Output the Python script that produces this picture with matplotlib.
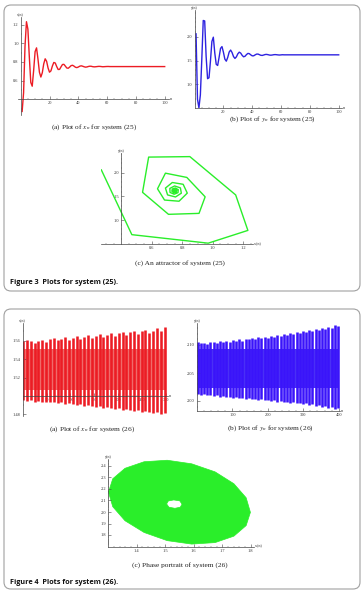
import numpy as np
import matplotlib
matplotlib.use('Agg')
import matplotlib.pyplot as plt
from matplotlib.patches import FancyBboxPatch, PathPatch
from matplotlib.path import Path
from matplotlib.ticker import FixedLocator, FixedFormatter

plt.rcParams['font.family'] = ['Liberation Serif', 'DejaVu Serif']
plt.rcParams['mathtext.fontset'] = 'stix'

# ---------------- data: system (25) ----------------
x25 = [0.27, 0.47, 0.97, 1.23, 1.15, 0.85, 0.58, 0.54, 0.71, 0.91,
       0.95, 0.83, 0.69, 0.638, 0.684, 0.779, 0.833, 0.806, 0.735, 0.690,
       0.704, 0.756, 0.794, 0.788, 0.750, 0.719, 0.720, 0.747, 0.772, 0.774,
       0.755, 0.735, 0.732, 0.745, 0.760, 0.764, 0.755, 0.743, 0.739, 0.745,
       0.754, 0.758, 0.754, 0.748, 0.744, 0.746, 0.751, 0.754, 0.753, 0.749,
       0.747, 0.748, 0.750, 0.752, 0.752, 0.750, 0.748, 0.749, 0.750, 0.751,
       0.751, 0.750, 0.750, 0.750, 0.750, 0.750, 0.750, 0.750, 0.750, 0.750,
       0.750, 0.750, 0.750, 0.750, 0.750, 0.750, 0.750, 0.750, 0.750, 0.750,
       0.750, 0.750, 0.750, 0.750, 0.750, 0.750, 0.750, 0.750, 0.750, 0.750,
       0.750, 0.750, 0.750, 0.750, 0.750, 0.750, 0.750, 0.750, 0.750, 0.750]
y25 = [2.06, 0.69, 0.51, 0.78, 1.53, 2.34, 2.33, 1.585, 1.12, 1.14,
       1.49, 1.90, 1.99, 1.66, 1.422, 1.397, 1.568, 1.755, 1.793, 1.675,
       1.530, 1.487, 1.567, 1.679, 1.720, 1.668, 1.584, 1.545, 1.578, 1.641,
       1.676, 1.656, 1.609, 1.579, 1.590, 1.625, 1.650, 1.644, 1.619, 1.599,
       1.600, 1.619, 1.635, 1.636, 1.623, 1.610, 1.608, 1.617, 1.627, 1.629,
       1.623, 1.615, 1.613, 1.617, 1.623, 1.625, 1.622, 1.618, 1.616, 1.619,
       1.622, 1.620, 1.620, 1.620, 1.620, 1.620, 1.620, 1.620, 1.620, 1.620,
       1.620, 1.620, 1.620, 1.620, 1.620, 1.620, 1.620, 1.620, 1.620, 1.620,
       1.620, 1.620, 1.620, 1.620, 1.620, 1.620, 1.620, 1.620, 1.620, 1.620,
       1.620, 1.620, 1.620, 1.620, 1.620, 1.620, 1.620, 1.620, 1.620, 1.620]
n25 = np.arange(1, len(x25) + 1)

# ---------------- data: system (26) ----------------
n26a = [1, 9, 17, 25, 33, 41, 49, 57, 65, 73, 81, 89, 97, 105, 113, 121, 129, 137, 145,
        153, 161, 169, 177, 185, 193, 201, 209, 217, 225, 233, 241, 249, 257, 265, 273,
        281, 289, 297]
top26a = [1.560, 1.561, 1.560, 1.558, 1.560, 1.561, 1.559, 1.562, 1.563, 1.561, 1.562,
          1.564, 1.561, 1.563, 1.565, 1.562, 1.564, 1.566, 1.563, 1.565, 1.567, 1.564,
          1.566, 1.568, 1.565, 1.568, 1.569, 1.566, 1.569, 1.571, 1.567, 1.570, 1.572,
          1.568, 1.571, 1.574, 1.570, 1.575]
bot26a = [1.496, 1.495, 1.496, 1.494, 1.495, 1.494, 1.493, 1.494, 1.493, 1.492, 1.493,
          1.491, 1.492, 1.491, 1.490, 1.491, 1.489, 1.490, 1.489, 1.488, 1.489, 1.487,
          1.488, 1.487, 1.486, 1.487, 1.485, 1.486, 1.485, 1.484, 1.485, 1.483, 1.484,
          1.483, 1.482, 1.483, 1.481, 1.482]
band26a = [1.507, 1.551]

n26b = [2, 11, 20, 29, 38, 47, 56, 65, 74, 83, 92, 101, 110, 119, 128, 137, 146, 155,
        164, 173, 182, 191, 200, 209, 218, 227, 236, 245, 254, 263, 272, 281, 290, 299,
        308, 317, 326, 335, 344, 353, 362, 371, 380, 389, 398]
top26b = [2.105, 2.103, 2.104, 2.102, 2.106, 2.105, 2.104, 2.107, 2.106, 2.108, 2.106,
          2.109, 2.108, 2.110, 2.108, 2.111, 2.110, 2.112, 2.110, 2.114, 2.112, 2.115,
          2.113, 2.116, 2.114, 2.118, 2.116, 2.119, 2.117, 2.121, 2.119, 2.123, 2.121,
          2.125, 2.123, 2.127, 2.125, 2.129, 2.127, 2.131, 2.129, 2.133, 2.131, 2.135,
          2.134]
bot26b = [2.012, 2.011, 2.012, 2.010, 2.011, 2.009, 2.010, 2.008, 2.009, 2.007, 2.008,
          2.006, 2.007, 2.005, 2.006, 2.004, 2.005, 2.003, 2.004, 2.002, 2.003, 2.001,
          2.002, 2.000, 2.001, 1.999, 2.000, 1.998, 1.999, 1.997, 1.998, 1.996, 1.997,
          1.995, 1.996, 1.993, 1.994, 1.991, 1.993, 1.990, 1.991, 1.988, 1.990, 1.986,
          1.988]
band26b = [2.024, 2.092]

outer_x = [1.799, 1.784, 1.741, 1.675, 1.593, 1.507, 1.426, 1.359, 1.316,
           1.301, 1.316, 1.359, 1.426, 1.507, 1.593, 1.675, 1.741, 1.784]
outer_y = [1.997, 1.882, 1.790, 1.734, 1.721, 1.751, 1.822, 1.924, 2.046,
           2.173, 2.289, 2.380, 2.437, 2.450, 2.419, 2.349, 2.246, 2.124]
hole_x = [1.505, 1.511, 1.530, 1.551, 1.559, 1.553, 1.534, 1.513]
hole_y = [2.070, 2.096, 2.105, 2.097, 2.068, 2.042, 2.032, 2.042]

RED = '#ec1c24'
RED_BAND = '#f06a6a'
BLUE3 = '#2d22e0'
BLUE = '#3a14fa'
BLUE_BAND = '#4a30f6'
GREEN = '#2aee2a'

W, H = 364, 591
fig = plt.figure(figsize=(W / 100, H / 100), dpi=100)

bg = fig.add_axes([0, 0, 1, 1])
bg.set_xlim(0, W)
bg.set_ylim(H, 0)
bg.axis('off')
bg.set_zorder(-10)
for (y0, y1) in [(5, 291), (309, 589)]:
    bg.add_patch(FancyBboxPatch((4, y0), 356, y1 - y0,
                                boxstyle='round,pad=0,rounding_size=7',
                                fc='white', ec='#a0a0a0', lw=0.8))


def add_ax(pxa, va, pxb, vb, pya, wa, pyb, wb, xlim, ylim):
    sx = (pxb - pxa) / (vb - va)
    sy = (pyb - pya) / (wb - wa)
    l = pxa + (xlim[0] - va) * sx
    r = pxa + (xlim[1] - va) * sx
    t = pya + (ylim[1] - wa) * sy
    b = pya + (ylim[0] - wa) * sy
    ax = fig.add_axes([l / W, 1 - b / H, (r - l) / W, (b - t) / H])
    ax.set_xlim(*xlim)
    ax.set_ylim(*ylim)
    ax.patch.set_alpha(0)
    return ax


def style(ax, x0, y0, xt, xl, yt, yl, xm, ym, ylab, xlab):
    for s in ['top', 'right']:
        ax.spines[s].set_visible(False)
    ax.spines['left'].set_position(('data', x0))
    ax.spines['bottom'].set_position(('data', y0))
    for s in ['left', 'bottom']:
        ax.spines[s].set_linewidth(0.5)
        ax.spines[s].set_color('#444444')
        ax.spines[s].set_zorder(5)
    ax.xaxis.set_major_locator(FixedLocator(xt))
    ax.xaxis.set_major_formatter(FixedFormatter(xl))
    ax.yaxis.set_major_locator(FixedLocator(yt))
    ax.yaxis.set_major_formatter(FixedFormatter(yl))
    ax.xaxis.set_minor_locator(FixedLocator(xm))
    ax.yaxis.set_minor_locator(FixedLocator(ym))
    ax.tick_params(which='major', direction='in', length=2, width=0.4,
                   labelsize=3.2, pad=1.5, colors='#444444', labelcolor='#333333')
    ax.tick_params(which='minor', direction='in', length=1, width=0.3, colors='#444444')
    ax.text(x0, ax.get_ylim()[1], ylab, fontsize=3, ha='center', va='bottom', color='#333333')
    ax.text(ax.get_xlim()[1], y0, ' ' + xlab, fontsize=3, ha='left', va='center', color='#333333')


# ---- Figure 3 (a)
ax = add_ax(20.7, 0, 164.7, 100, 99.3, 0.4, 24.5, 1.2, (-2, 103), (0.232, 1.28))
ax.plot(n25, x25, color=RED, lw=1.0, solid_joinstyle='round')
style(ax, 0, 0.4, [20, 40, 60, 80, 100], ['20', '40', '60', '80', '100'],
      [0.6, 0.8, 1.0, 1.2], ['0.6', '0.8', '1.0', '1.2'],
      [5, 10, 15, 25, 30, 35, 45, 50, 55, 65, 70, 75, 85, 90, 95],
      [0.3, 0.5, 0.7, 0.9, 1.1], 'x(n)', 'n')

# ---- Figure 3 (b)
ax = add_ax(194.6, 0, 338.7, 100, 108.3, 0.5, 36.7, 2.0, (0, 102), (0.5, 2.56))
ax.plot(n25, y25, color=BLUE3, lw=1.0, solid_joinstyle='round')
style(ax, 0, 0.5, [20, 40, 60, 80, 100], ['20', '40', '60', '80', '100'],
      [1.0, 1.5, 2.0], ['1.0', '1.5', '2.0'],
      [5, 10, 15, 25, 30, 35, 45, 50, 55, 65, 70, 75, 85, 90, 95],
      [0.6, 0.7, 0.8, 0.9, 1.1, 1.2, 1.3, 1.4, 1.6, 1.7, 1.8, 1.9, 2.1, 2.2, 2.3, 2.4, 2.5],
      'y(n)', 'n')

# ---- Figure 3 (c)
ax = add_ax(151.7, 0.6, 243.3, 1.2, 172.7, 2.0, 220.0, 1.0, (0.266, 1.265), (0.5, 2.42))
ax.plot(x25, y25, color=GREEN, lw=1.0, solid_joinstyle='round')
style(ax, 0.4, 0.5, [0.6, 0.8, 1.0, 1.2], ['0.6', '0.8', '1.0', '1.2'],
      [1.0, 1.5, 2.0], ['1.0', '1.5', '2.0'],
      [0.3, 0.35, 0.45, 0.5, 0.55, 0.65, 0.7, 0.75, 0.85, 0.9, 0.95, 1.05, 1.1, 1.15, 1.25],
      [0.6, 0.7, 0.8, 0.9, 1.1, 1.2, 1.3, 1.4, 1.6, 1.7, 1.8, 1.9, 2.1, 2.2, 2.3, 2.4],
      'y(n)', 'x(n)')

# ---- Figure 4 (a)
ax = add_ax(22.7, 0, 166.0, 300, 396.0, 1.50, 340.7, 1.56, (0, 304), (1.478, 1.579))
ax.fill_between([n26a[0], n26a[-1]], band26a[0], band26a[1], color=RED_BAND, lw=0)
ax.vlines(n26a, bot26a, top26a, color=RED, lw=1.85)
style(ax, 0, 1.50, [50, 100, 150, 200, 250, 300], ['50', '100', '150', '200', '250', '300'],
      [1.48, 1.52, 1.54, 1.56], ['1.48', '1.52', '1.54', '1.56'],
      [10, 20, 30, 40, 60, 70, 80, 90, 110, 120, 130, 140, 160, 170, 180, 190,
       210, 220, 230, 240, 260, 270, 280, 290],
      [1.49, 1.51, 1.53, 1.55, 1.57], 'x(n)', 'n')

# ---- Figure 4 (b)
ax = add_ax(197.0, 0, 338.7, 400, 401.0, 2.00, 345.0, 2.10, (0, 405), (1.983, 2.14))
ax.fill_between([n26b[0], n26b[-1]], band26b[0], band26b[1], color=BLUE_BAND, lw=0)
ax.vlines(n26b, bot26b, top26b, color=BLUE, lw=1.85)
style(ax, 0, 1.983, [100, 200, 300, 400], ['100', '200', '300', '400'],
      [2.00, 2.05, 2.10], ['2.00', '2.05', '2.10'],
      [20, 40, 60, 80, 120, 140, 160, 180, 220, 240, 260, 280, 320, 340, 360, 380],
      [1.99, 2.01, 2.02, 2.03, 2.04, 2.06, 2.07, 2.08, 2.09, 2.11, 2.12, 2.13],
      'y(n)', 'n')

# ---- Figure 4 (c)
ax = add_ax(136.7, 1.4, 250.7, 1.8, 466.0, 2.4, 535.0, 1.8, (1.3, 1.81), (1.7, 2.46))
verts = list(zip(outer_x, outer_y)) + [(outer_x[0], outer_y[0])]
codes = [Path.MOVETO] + [Path.LINETO] * (len(outer_x) - 1) + [Path.CLOSEPOLY]
hv = list(zip(hole_x[::-1], hole_y[::-1])) + [(hole_x[-1], hole_y[-1])]
verts += hv
codes += [Path.MOVETO] + [Path.LINETO] * (len(hole_x) - 1) + [Path.CLOSEPOLY]
ax.add_patch(PathPatch(Path(verts, codes), fc=GREEN, ec=GREEN, lw=0.5, joinstyle='round'))
style(ax, 1.3, 1.7, [1.4, 1.5, 1.6, 1.7, 1.8], ['1.4', '1.5', '1.6', '1.7', '1.8'],
      [1.8, 1.9, 2.0, 2.1, 2.2, 2.3, 2.4], ['1.8', '1.9', '2.0', '2.1', '2.2', '2.3', '2.4'],
      [1.32, 1.34, 1.36, 1.38, 1.42, 1.44, 1.46, 1.48, 1.52, 1.54, 1.56, 1.58,
       1.62, 1.64, 1.66, 1.68, 1.72, 1.74, 1.76, 1.78],
      [1.72, 1.74, 1.76, 1.78, 1.82, 1.84, 1.86, 1.88, 1.92, 1.94, 1.96, 1.98,
       2.02, 2.04, 2.06, 2.08, 2.12, 2.14, 2.16, 2.18, 2.22, 2.24, 2.26, 2.28,
       2.32, 2.34, 2.36, 2.38, 2.42, 2.44],
      'y(n)', 'x(n)')

# ---- captions
cap = dict(fontsize=5.3, ha='center', va='center', color='#222222')
bg.text(94, 127, r'(a) Plot of $x_n$ for system (25)', **cap)
bg.text(272, 119, r'(b) Plot of $y_n$ for system (25)', **cap)
bg.text(180, 263, '(c) An attractor of system (25)', **cap)
bg.text(92, 429, r'(a) Plot of $x_n$ for system (26)', **cap)
bg.text(270, 428, r'(b) Plot of $y_n$ for system (26)', **cap)
bg.text(180, 565, '(c) Phase portrait of system (26)', **cap)
fcap = dict(fontsize=5.2, ha='left', va='center', color='#111111',
            family=['Open Sans', 'DejaVu Sans'], fontweight='bold')
bg.text(10, 283, 'Figure 3  Plots for system (25).', **fcap)
bg.text(10, 583, 'Figure 4  Plots for system (26).', **fcap)

fig.savefig('out.png', dpi=100)
